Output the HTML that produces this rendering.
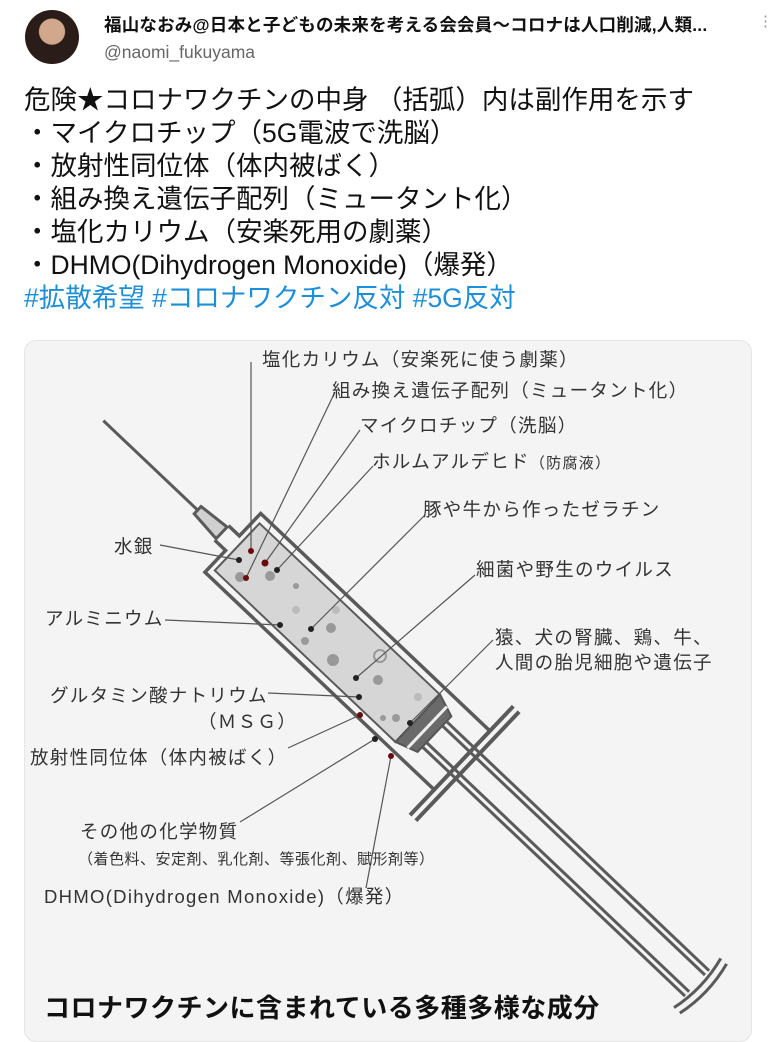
<!DOCTYPE html>
<html><head><meta charset="utf-8"><style>
body{margin:0;width:774px;height:1024px;overflow:hidden;background:#fff;font-family:"Liberation Sans","Noto Sans CJK JP",sans-serif;position:relative}
.t{position:absolute;white-space:nowrap}
</style></head><body>
<div style="position:absolute;left:25px;top:10px;width:54px;height:54px;border-radius:50%;background:radial-gradient(circle at 50% 40%,#d2a88c 0 30%,#2a1c18 32% 100%)"></div>
<div class="t" style="left:104px;top:12px;font-size:17.5px;font-weight:bold;color:#111;letter-spacing:0.2px">福山なおみ@日本と子どもの未来を考える会会員〜コロナは人口削減,人類...</div>
<div class="t" style="left:758px;top:12px;font-size:15px;color:#999">⋮</div>
<div class="t" style="left:104px;top:42px;font-size:17.5px;color:#666">@naomi_fukuyama</div>
<div style="position:absolute;left:24px;top:84px;font-size:26.5px;line-height:33px;color:#111;white-space:nowrap">
危険★コロナワクチンの中身 （括弧）内は副作用を示す<br>・マイクロチップ（5G電波で洗脳）<br>・放射性同位体（体内被ばく）<br>・組み換え遺伝子配列（ミュータント化）<br>・塩化カリウム（安楽死用の劇薬）<br>・DHMO(Dihydrogen Monoxide)（爆発）<br><span style="color:#1d8fd8">#拡散希望 #コロナワクチン反対 #5G反対</span></div>
<div style="position:absolute;left:24px;top:340px;width:726px;height:700px;background:#f4f4f4;border:1px solid #e6e6e6;border-radius:12px"></div>
<svg style="position:absolute;left:0;top:0" width="774" height="1024">
<g transform="translate(207,570) rotate(43.5)" stroke="#5a5a5a" fill="none">
<line x1="-178" y1="-37" x2="-40" y2="-37" stroke-width="3"/>
<path d="M-48,-42 L-15,-45 L-15,-29 L-48,-32 Z" fill="#d0d0d0" stroke-width="3"/>
<path d="M-15,-47 L0,-47 L0,-78 L316,-78 L316,3 L0,3 L0,-27 L-15,-27" stroke-width="3.5"/>
<path d="M6,-70 L255,-70 L255,-5 L6,-5 Z" fill="#d6d6d6" stroke-width="2"/>
<path d="M255,-70 L278,-62 L278,-13 L255,-5 Z" fill="#6a6a6a" stroke="#555" stroke-width="2"/>
<line x1="268" y1="-66" x2="268" y2="-9" stroke="#eee" stroke-width="3"/>
<path d="M278,-55 L640,-55 M278,-49 L640,-49 M278,-26 L640,-26 M278,-20 L640,-20" stroke-width="3"/>
<path d="M316,-112 L316,38 M324,-112 L324,38" stroke-width="4"/>
<path d="M640,-72 Q648,-38 640,-4 M648,-72 Q656,-38 648,-4" stroke-width="3"/>
</g>
<g fill="#999">
<circle cx="240" cy="577" r="5"/><circle cx="270" cy="576" r="5"/><circle cx="296" cy="586" r="3"/><circle cx="296" cy="610" r="4" fill="#bbb"/><circle cx="336" cy="610" r="4" fill="#bbb"/><circle cx="331" cy="628" r="5"/><circle cx="305" cy="641" r="4"/><circle cx="333" cy="660" r="6"/><circle cx="380" cy="656" r="6" fill="none" stroke="#999" stroke-width="2"/><circle cx="378" cy="680" r="5"/><circle cx="418" cy="697" r="4" fill="#bbb"/><circle cx="383" cy="718" r="3"/><circle cx="396" cy="718" r="4"/>
</g>
<g stroke="#555" stroke-width="1.2" fill="none">
<line x1="251" y1="362" x2="251" y2="551"/><line x1="335" y1="392" x2="246" y2="578"/><line x1="360" y1="430" x2="265" y2="563"/><line x1="373" y1="466" x2="277" y2="570"/><line x1="425" y1="515" x2="311" y2="629"/><line x1="475" y1="575" x2="356" y2="678"/><line x1="493" y1="640" x2="410" y2="723"/><line x1="160" y1="545" x2="239" y2="560"/><line x1="165" y1="620" x2="280" y2="625"/><line x1="268" y1="693" x2="359" y2="697"/><line x1="288" y1="748" x2="360" y2="715"/><line x1="240" y1="822" x2="375" y2="739"/><line x1="366" y1="888" x2="391" y2="756"/>
</g>
<g fill="#222"><circle cx="239" cy="560" r="3"/><circle cx="277" cy="570" r="3"/><circle cx="280" cy="625" r="3"/><circle cx="311" cy="629" r="3"/><circle cx="356" cy="678" r="3"/><circle cx="359" cy="697" r="3"/><circle cx="375" cy="739" r="3"/><circle cx="410" cy="723" r="3"/></g>
<g fill="#6b0a0a"><circle cx="251" cy="551" r="3"/><circle cx="265" cy="563" r="3.5"/><circle cx="246" cy="578" r="3"/><circle cx="360" cy="715" r="3"/><circle cx="391" cy="756" r="3"/></g>
</svg>
<div style="position:absolute;left:0;top:0;font-size:18.5px;letter-spacing:1.3px;color:#333">
<div class="t" style="left:262px;top:346px">塩化カリウム（安楽死に使う劇薬）</div>
<div class="t" style="left:332px;top:377px">組み換え遺伝子配列（ミュータント化）</div>
<div class="t" style="left:360px;top:412px">マイクロチップ（洗脳）</div>
<div class="t" style="left:372px;top:448px">ホルムアルデヒド<span style="font-size:15px">（防腐液）</span></div>
<div class="t" style="left:423px;top:496px">豚や牛から作ったゼラチン</div>
<div class="t" style="left:476px;top:556px">細菌や野生のウイルス</div>
<div class="t" style="left:495px;top:624px">猿、犬の腎臓、鶏、牛、</div>
<div class="t" style="left:495px;top:649px">人間の胎児細胞や遺伝子</div>
<div class="t" style="left:114px;top:533px">水銀</div>
<div class="t" style="left:45px;top:605px">アルミニウム</div>
<div class="t" style="left:50px;top:682px">グルタミン酸ナトリウム</div>
<div class="t" style="left:198px;top:708px">（ＭＳＧ）</div>
<div class="t" style="left:30px;top:744px">放射性同位体（体内被ばく）</div>
<div class="t" style="left:80px;top:818px">その他の化学物質</div>
<div class="t" style="left:78px;top:848px;font-size:15px;letter-spacing:0.5px">（着色料、安定剤、乳化剤、等張化剤、賦形剤等）</div>
<div class="t" style="left:44px;top:883px">DHMO(Dihydrogen Monoxide)（爆発）</div>
<div class="t" style="left:44px;top:988px;font-size:26px;letter-spacing:0.5px;font-weight:bold;color:#111">コロナワクチンに含まれている多種多様な成分</div>
</div>
</body></html>
